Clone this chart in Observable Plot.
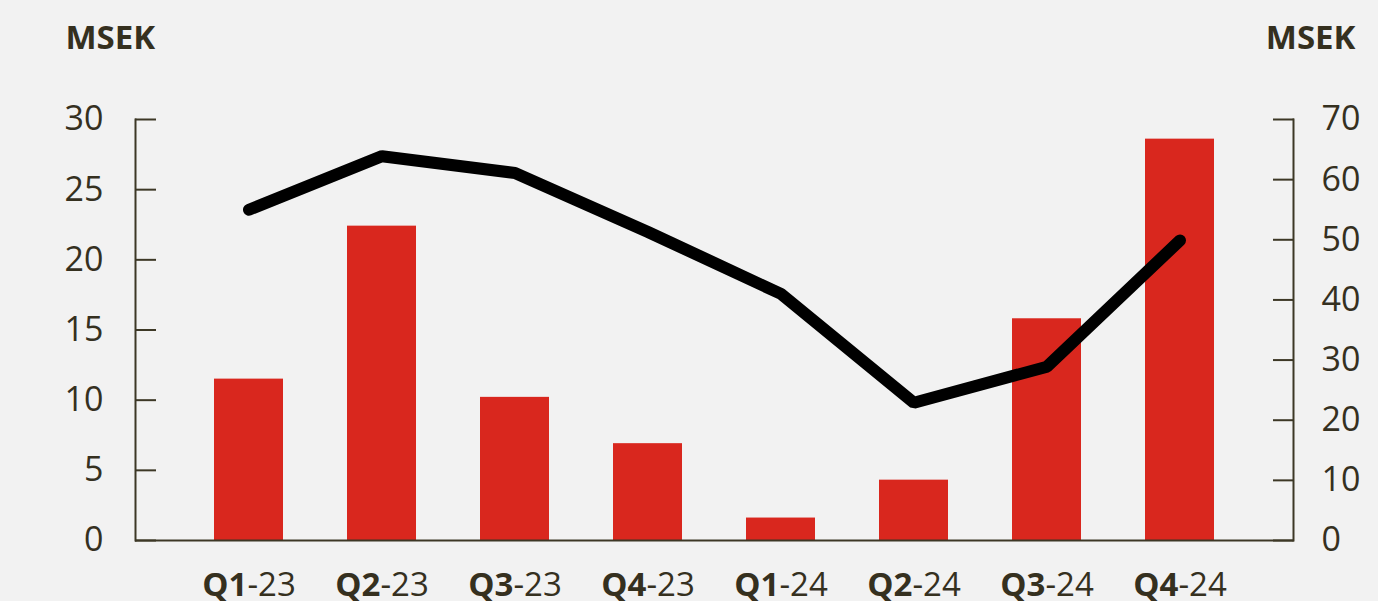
<!DOCTYPE html>
<html>
<head>
<meta charset="utf-8">
<script src="https://cdn.jsdelivr.net/npm/d3@7"></script>
<script src="https://cdn.jsdelivr.net/npm/@observablehq/plot@0.6"></script>
<style>
  html, body { margin: 0; padding: 0; background: #f2f2f2; }
  #chart svg { display: block; }
</style>
</head>
<body>
<div id="chart"></div>
<script>
const quarters = ["Q1-23", "Q2-23", "Q3-23", "Q4-23", "Q1-24", "Q2-24", "Q3-24", "Q4-24"];
const barValues = [11.5, 22.4, 10.2, 6.9, 1.6, 4.3, 15.8, 28.6];   // left axis, MSEK
const lineValues = [55.0, 63.9, 61.1, 51.3, 41.0, 22.9, 28.9, 49.9]; // right axis, MSEK
const leftTicks = [0, 5, 10, 15, 20, 25, 30];
const rightTicks = [0, 10, 20, 30, 40, 50, 60, 70];
const unitLabel = "MSEK";

const leftMax = 30, rightMax = 70;
const toLeft = v => v * leftMax / rightMax;

const data = quarters.map((q, i) => ({q, bar: barValues[i], line: lineValues[i]}));

const ink = "#35301f";
const axisInk = "#3d3826";

const chart = Plot.plot({
  width: 1378,
  height: 601,
  marginLeft: 135,
  marginRight: 85,
  marginTop: 119,
  marginBottom: 61,
  style: {background: "#f2f2f2", fontFamily: "'Open Sans', sans-serif", color: ink},
  x: {domain: quarters, paddingInner: 0.483, paddingOuter: 0.5765, align: 0.5, label: null},
  y: {domain: [0, leftMax], label: null},
  marks: [
    Plot.barY(data, {x: "q", y: "bar", fill: "#d9271e"}),
    Plot.frame({anchor: "left", stroke: axisInk, strokeWidth: 2}),
    Plot.frame({anchor: "right", stroke: axisInk, strokeWidth: 2}),
    Plot.ruleY([0], {stroke: axisInk, strokeWidth: 2}),
    Plot.axisY({anchor: "left", ticks: leftTicks, tickSize: -21, tickPadding: 53, fontSize: 34, stroke: axisInk, strokeWidth: 2, fill: ink, label: null}),
    Plot.axisY({anchor: "right", ticks: rightTicks.map(toLeft), tickFormat: d => String(Math.round(d * rightMax / leftMax)), tickSize: -21, tickPadding: 49, fontSize: 34, stroke: axisInk, strokeWidth: 2, fill: ink, label: null}),
    Plot.axisX({tickSize: 0, tickPadding: 32, fontSize: 33, fill: ink, label: null}),
    Plot.line(data, {x: "q", y: d => toLeft(d.line), stroke: "#000", strokeWidth: 12, strokeLinecap: "round", strokeLinejoin: "miter"}),
    Plot.text([unitLabel], {frameAnchor: "top-left", dx: -70, dy: -81, textAnchor: "start", lineAnchor: "middle", fontSize: 33, fontWeight: "bold", fill: ink}),
    Plot.text([unitLabel], {frameAnchor: "top-right", dx: 62, dy: -81, textAnchor: "end", lineAnchor: "middle", fontSize: 33, fontWeight: "bold", fill: ink})
  ]
});

d3.select(chart).selectAll("g[aria-label='x-axis tick label'] text").each(function() {
  const t = this.textContent;
  const idx = t.indexOf("-");
  const sel = d3.select(this);
  sel.text(null);
  sel.append("tspan").attr("font-weight", "bold").text(t.slice(0, idx));
  sel.append("tspan").text(t.slice(idx));
});

document.getElementById("chart").appendChild(chart);
</script>
</body>
</html>
